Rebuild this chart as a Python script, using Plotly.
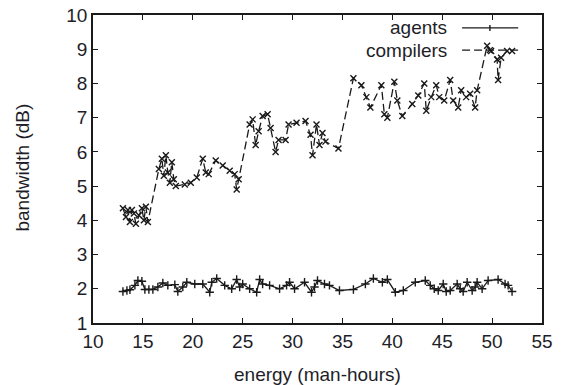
import plotly.graph_objects as go

# ---- data ----
agents_x = [13.0, 13.4, 13.7, 14.2, 14.5, 14.9, 15.2, 15.6, 16.0, 16.5, 17.0, 17.5, 18.2, 18.5,
            19.0, 19.4, 20.2, 21.0, 21.7, 21.9, 22.4, 23.2, 23.9, 24.4, 24.7, 25.0, 25.7, 26.4,
            26.7, 27.0, 27.7, 28.7, 29.4, 29.7, 30.2, 31.2, 31.9, 32.2, 32.5, 33.2, 33.7, 34.7,
            36.1, 37.3, 38.1, 39.0, 39.5, 40.3, 41.1, 42.3, 43.3, 43.8, 44.2, 44.6, 45.1, 45.4,
            45.8, 46.5, 46.8, 47.1, 47.5, 48.0, 48.3, 48.5, 49.0, 49.6, 50.6, 51.3, 51.6, 52.0]
agents_y = [1.92, 1.95, 1.97, 2.10, 2.24, 2.22, 1.98, 1.98, 1.98, 2.05, 2.17, 2.10, 2.12, 1.92,
            2.05, 2.19, 2.14, 2.14, 1.90, 2.19, 2.30, 2.10, 2.00, 2.27, 2.05, 2.14, 2.00, 1.90,
            2.27, 2.14, 2.10, 2.00, 2.10, 2.19, 2.00, 2.19, 1.90, 2.05, 2.24, 2.14, 2.10, 1.95,
            1.98, 2.14, 2.30, 2.19, 2.27, 1.90, 1.95, 2.19, 2.24, 2.10, 2.00, 1.95, 2.14, 1.92,
            1.95, 2.14, 2.00, 1.92, 2.19, 1.95, 2.05, 2.19, 2.00, 2.24, 2.27, 2.14, 2.10, 1.92]

compilers_x = [13.0, 13.3, 13.5, 13.7, 13.9, 14.1, 14.3, 14.6, 14.9, 15.1, 15.3, 15.5,
               16.6, 16.9, 17.1, 17.3, 17.5, 17.7, 17.9, 18.1, 18.3, 19.2, 19.8, 20.4,
               21.0, 21.3, 21.6, 22.3, 23.0, 23.7, 24.2, 24.4, 24.6,
               25.7, 26.0, 26.3, 26.6, 27.0, 27.5, 27.8, 28.3, 28.6, 29.3, 29.6, 30.4,
               31.3, 31.8, 32.0, 32.4, 32.7, 33.0, 33.3, 34.6,
               36.1, 36.9, 37.4, 37.8, 38.9, 39.2, 39.5, 40.2, 40.5, 41.0, 42.0, 42.6,
               43.2, 43.4, 43.9, 44.4, 44.7, 45.2, 45.8, 46.1, 46.6, 46.9, 47.4, 47.8,
               48.3, 48.5, 49.5, 49.9, 50.5, 50.6, 50.9, 51.5, 52.0]
compilers_y = [4.35, 4.10, 4.30, 3.95, 4.30, 4.20, 3.90, 4.15, 4.35, 4.00, 4.40, 3.95,
               5.50, 5.80, 5.30, 5.90, 5.40, 5.10, 5.70, 5.20, 5.00, 5.05, 5.10, 5.25,
               5.80, 5.40, 5.35, 5.75, 5.60, 5.45, 5.35, 4.90, 5.20,
               6.80, 6.95, 6.20, 6.60, 7.05, 7.10, 6.70, 6.00, 6.35, 6.35, 6.80, 6.85,
               6.90, 6.50, 5.90, 6.80, 6.20, 6.55, 6.30, 6.10,
               8.15, 7.95, 7.60, 7.30, 7.95, 7.10, 7.00, 8.05, 7.50, 7.05, 7.40, 7.65,
               8.00, 7.20, 7.60, 7.95, 7.60, 7.50, 8.10, 7.50, 7.30, 7.80, 7.60, 7.70,
               7.30, 7.80, 9.10, 8.95, 8.70, 8.10, 8.75, 8.95, 8.95]

x_ticks = [10, 15, 20, 25, 30, 35, 40, 45, 50, 55]
y_ticks = [1, 2, 3, 4, 5, 6, 7, 8, 9, 10]
series_names = ["agents", "compilers"]
x_title = "energy (man-hours)"
y_title = "bandwidth (dB)"

INK = "#1a1a1a"
TXT = "#1e1e28"
FONT = "Liberation Sans, Arial, sans-serif"
DASH = "8px,4px"
FS = 19

fig = go.Figure()
fig.add_trace(go.Scatter(
    x=agents_x, y=agents_y, mode="lines+markers", name=series_names[0],
    line=dict(color=INK, width=1.3),
    marker=dict(symbol="cross-thin", size=6, line=dict(color=INK, width=1.4)),
    showlegend=False))
fig.add_trace(go.Scatter(
    x=compilers_x, y=compilers_y, mode="lines+markers", name=series_names[1],
    line=dict(color=INK, width=1.3, dash=DASH),
    marker=dict(symbol="x-thin", size=6, line=dict(color=INK, width=1.4)),
    showlegend=False))

axis_common = dict(showline=True, linecolor=INK, linewidth=1.5, mirror="allticks",
                   ticks="inside", ticklen=5, tickwidth=1, tickcolor=INK,
                   showgrid=False, zeroline=False, automargin=False,
                   ticklabeloverflow="allow",
                   tickfont=dict(family=FONT, size=FS, color=TXT))

fig.update_xaxes(range=[10, 55], tickvals=x_ticks, ticktext=[str(t) for t in x_ticks],
                 **axis_common)
fig.update_yaxes(range=[1, 10], tickvals=y_ticks, ticktext=[str(t) for t in y_ticks],
                 **axis_common)

# axis titles
fig.add_annotation(x=0.5, y=-0.166, xref="paper", yref="paper", text=x_title,
                   showarrow=False, xanchor="center", yanchor="middle",
                   font=dict(family=FONT, size=FS, color=TXT))
fig.add_annotation(x=-0.158, y=0.505, xref="paper", yref="paper", text=y_title,
                   showarrow=False, xanchor="center", yanchor="middle", textangle=-90,
                   font=dict(family=FONT, size=FS, color=TXT))

# gnuplot-style legend (text right-aligned, sample with point to the right)
legend_rows = [(0.958, "solid", "+"), (0.886, "dash", "x")]
x0s, x1s, xm = 0.822, 0.947, 0.884
for name, (yp, dash, sym) in zip(series_names, legend_rows):
    fig.add_annotation(x=0.793, y=yp, xref="paper", yref="paper", text=name,
                       showarrow=False, xanchor="right", yanchor="middle",
                       font=dict(family=FONT, size=FS, color=TXT))
    fig.add_shape(type="line", xref="paper", yref="paper", x0=x0s, x1=x1s, y0=yp, y1=yp,
                  line=dict(color=INK, width=1.3, dash="solid" if dash == "solid" else DASH))
    dx, dy = 0.0067, 0.0097
    if sym == "+":
        fig.add_shape(type="line", xref="paper", yref="paper", x0=xm, x1=xm,
                      y0=yp - dy, y1=yp + dy, line=dict(color=INK, width=1.4))
    else:
        fig.add_shape(type="line", xref="paper", yref="paper", x0=xm - dx, x1=xm + dx,
                      y0=yp - dy, y1=yp + dy, line=dict(color=INK, width=1.4))
        fig.add_shape(type="line", xref="paper", yref="paper", x0=xm - dx, x1=xm + dx,
                      y0=yp + dy, y1=yp - dy, line=dict(color=INK, width=1.4))

fig.update_layout(width=573, height=385, margin=dict(l=93, r=31, t=15, b=62),
                  paper_bgcolor="white", plot_bgcolor="white", showlegend=False)

fig.write_html("out.html", config={"displayModeBar": False},
               post_script="document.body.style.margin='0px';")
